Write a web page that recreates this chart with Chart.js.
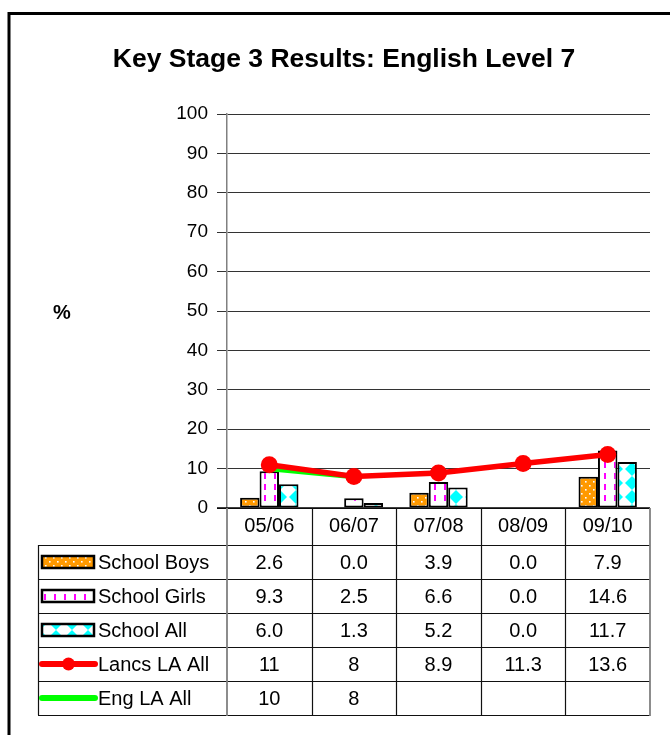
<!DOCTYPE html>
<html><head><meta charset="utf-8">
<script src="https://cdn.jsdelivr.net/npm/chart.js@4.4.0/dist/chart.umd.min.js"></script>
<style>html,body{margin:0;padding:0;background:#fff}canvas{display:block}</style>
</head><body>
<canvas id="c" width="670" height="735"></canvas>
<script>
// ---- data ----
const chartTitle = 'Key Stage 3 Results: English Level 7';
const yAxisTitle = '%';
const categories = ['05/06', '06/07', '07/08', '08/09', '09/10'];
const seriesNames = ['School Boys', 'School Girls', 'School All', 'Lancs LA All', 'Eng LA All'];
const schoolBoys = [2.6, 0.0, 3.9, 0.0, 7.9];
const schoolGirls = [9.3, 2.5, 6.6, 0.0, 14.6];
const schoolAll = [6.0, 1.3, 5.2, 0.0, 11.7];
const lancsLAAll = [11, 8, 8.9, 11.3, 13.6];
const engLAAll = [10, 8, null, null, null];
const yMin = 0, yMax = 100, yStep = 10;

const FONT = 'Arial, "Liberation Sans", sans-serif';
const canvas = document.getElementById('c');
const mainCtx = canvas.getContext('2d');

function makePattern(w, h, draw) {
  const t = document.createElement('canvas');
  t.width = w; t.height = h;
  const g = t.getContext('2d');
  draw(g, w, h);
  return mainCtx.createPattern(t, 'repeat');
}
const boysPattern = makePattern(8, 8, (g, w, h) => {
  g.fillStyle = '#FF9900'; g.fillRect(0, 0, w, h);
  g.fillStyle = '#FFFFFF'; g.fillRect(1, 1, 1.6, 1.6); g.fillRect(5, 5, 1.6, 1.6);
});
const girlsPattern = makePattern(10, 11, (g, w, h) => {
  g.fillStyle = '#FFFFFF'; g.fillRect(0, 0, w, h);
  g.fillStyle = '#FF00FF'; g.fillRect(4, 0, 2, 6);
});
const allPattern = makePattern(16, 14, (g, w, h) => {
  g.fillStyle = '#FFFFFF'; g.fillRect(0, 0, w, h);
  g.fillStyle = '#00FFFF';
  g.beginPath(); g.moveTo(8, 0); g.lineTo(15, 7); g.lineTo(8, 14); g.lineTo(1, 7); g.closePath(); g.fill();
});

const barStyles = [boysPattern, girlsPattern, allPattern];

const fmtBar = v => v == null ? '' : v.toFixed(1);
const fmtLine = v => v == null ? '' : String(v);

const tablePlugin = {
  id: 'dataTable',
  afterDraw(chart) {
    const ctx = chart.ctx, ca = chart.chartArea, xs = chart.scales.x;
    const n = categories.length;
    const colW = (ca.right - ca.left) / n;
    const headerH = 37, rowH = 34;
    const tableLeft = 38;
    const rowsTop = ca.bottom + headerH;
    const tableBottom = rowsTop + rowH * 5;
    ctx.save();
    // title
    ctx.fillStyle = '#000';
    ctx.font = 'bold 26.5px ' + FONT;
    ctx.textAlign = 'center'; ctx.textBaseline = 'middle';
    ctx.fillText(chartTitle, 344, 60);
    // y axis title
    ctx.font = 'bold 20px ' + FONT;
    ctx.fillText(yAxisTitle, 62, 313);

    // x-axis line
    ctx.strokeStyle = '#000'; ctx.lineWidth = 1.5;
    ctx.beginPath(); ctx.moveTo(ca.left - 10, ca.bottom); ctx.lineTo(ca.right, ca.bottom); ctx.stroke();

    // horizontal table lines
    ctx.strokeStyle = '#111'; ctx.lineWidth = 1.2;
    for (let r = 0; r <= 5; r++) {
      const y = Math.round(rowsTop + r * rowH) + 0.5;
      ctx.beginPath(); ctx.moveTo(tableLeft, y); ctx.lineTo(ca.right, y); ctx.stroke();
    }
    // left border
    ctx.beginPath(); ctx.moveTo(tableLeft + 0.5, rowsTop); ctx.lineTo(tableLeft + 0.5, tableBottom); ctx.stroke();
    // inner vertical lines
    for (let i = 1; i < n; i++) {
      const x = Math.round(ca.left + i * colW) + 0.5;
      ctx.beginPath(); ctx.moveTo(x, ca.bottom); ctx.lineTo(x, tableBottom); ctx.stroke();
    }
    // gray verticals: axis extension and right border
    ctx.strokeStyle = '#808080'; ctx.lineWidth = 1.8;
    ctx.beginPath(); ctx.moveTo(ca.left, ca.bottom); ctx.lineTo(ca.left, tableBottom + 1); ctx.stroke();
    ctx.beginPath(); ctx.moveTo(ca.right, ca.bottom); ctx.lineTo(ca.right, tableBottom + 1); ctx.stroke();

    // header labels
    ctx.fillStyle = '#000';
    ctx.font = '20px ' + FONT;
    ctx.textAlign = 'center'; ctx.textBaseline = 'middle';
    categories.forEach((c, i) => ctx.fillText(c, xs.getPixelForValue(i), ca.bottom + headerH / 2));

    // rows
    const rows = [
      schoolBoys.map(fmtBar), schoolGirls.map(fmtBar), schoolAll.map(fmtBar),
      lancsLAAll.map(fmtLine), engLAAll.map(fmtLine)
    ];
    rows.forEach((vals, r) => {
      const cy = rowsTop + r * rowH + rowH / 2;
      // legend key
      if (r < 3) {
        ctx.fillStyle = barStyles[r];
        ctx.fillRect(42, cy - 6, 52, 12);
        ctx.strokeStyle = '#000'; ctx.lineWidth = 2.5;
        ctx.strokeRect(42, cy - 6, 52, 12);
      } else {
        const col = r === 3 ? '#FF0000' : '#00FF00';
        ctx.strokeStyle = col; ctx.lineWidth = 6; ctx.lineCap = 'round';
        ctx.beginPath(); ctx.moveTo(42, cy); ctx.lineTo(95, cy); ctx.stroke();
        if (r === 3) {
          ctx.fillStyle = col;
          ctx.beginPath(); ctx.arc(68.5, cy, 6.5, 0, Math.PI * 2); ctx.fill();
        }
      }
      ctx.fillStyle = '#000';
      ctx.textAlign = 'left';
      ctx.fillText(seriesNames[r], 98, cy + 1);
      ctx.textAlign = 'center';
      vals.forEach((v, i) => { if (v !== '') ctx.fillText(v, xs.getPixelForValue(i), cy + 1); });
    });

    // outer frame
    ctx.strokeStyle = '#000'; ctx.lineWidth = 3; ctx.lineCap = 'butt';
    ctx.beginPath(); ctx.moveTo(9, 736); ctx.lineTo(9, 13.5); ctx.lineTo(671, 13.5); ctx.stroke();
    ctx.restore();
  }
};

new Chart(canvas, {
  data: {
    labels: categories,
    datasets: [
      { type: 'line', label: seriesNames[3], data: lancsLAAll, borderColor: '#FF0000', backgroundColor: '#FF0000',
        borderWidth: 5.5, pointRadius: 8.5, pointBorderWidth: 0, pointBackgroundColor: '#FF0000', tension: 0, order: 0 },
      { type: 'line', label: seriesNames[4], data: engLAAll, borderColor: '#00FF00', backgroundColor: '#00FF00',
        borderWidth: 5.5, pointRadius: 0, tension: 0, spanGaps: false, order: 1 },
      { type: 'bar', label: seriesNames[0], data: schoolBoys, backgroundColor: boysPattern, borderColor: '#000', borderWidth: 2, borderSkipped: false, order: 2 },
      { type: 'bar', label: seriesNames[1], data: schoolGirls, backgroundColor: girlsPattern, borderColor: '#000', borderWidth: 2, borderSkipped: false, order: 2 },
      { type: 'bar', label: seriesNames[2], data: schoolAll, backgroundColor: allPattern, borderColor: '#000', borderWidth: 2, borderSkipped: false, order: 2 }
    ]
  },
  options: {
    responsive: false,
    animation: false,
    devicePixelRatio: 1,
    layout: { padding: { left: 7, right: 20, top: 114, bottom: 227 } },
    datasets: { bar: { categoryPercentage: 0.69, barPercentage: 1.0 } },
    plugins: { legend: { display: false }, title: { display: false }, tooltip: { enabled: false } },
    scales: {
      x: { display: false, offset: true },
      y: {
        min: yMin, max: yMax,
        ticks: { stepSize: yStep, color: '#000', font: { family: FONT, size: 19 }, padding: 9 },
        grid: { color: '#333', lineWidth: 1, tickLength: 10, drawTicks: true },
        border: { color: '#808080', width: 1.5 },
        afterFit(s) { s.width = 220; }
      }
    }
  },
  plugins: [tablePlugin]
});
</script>
</body></html>
